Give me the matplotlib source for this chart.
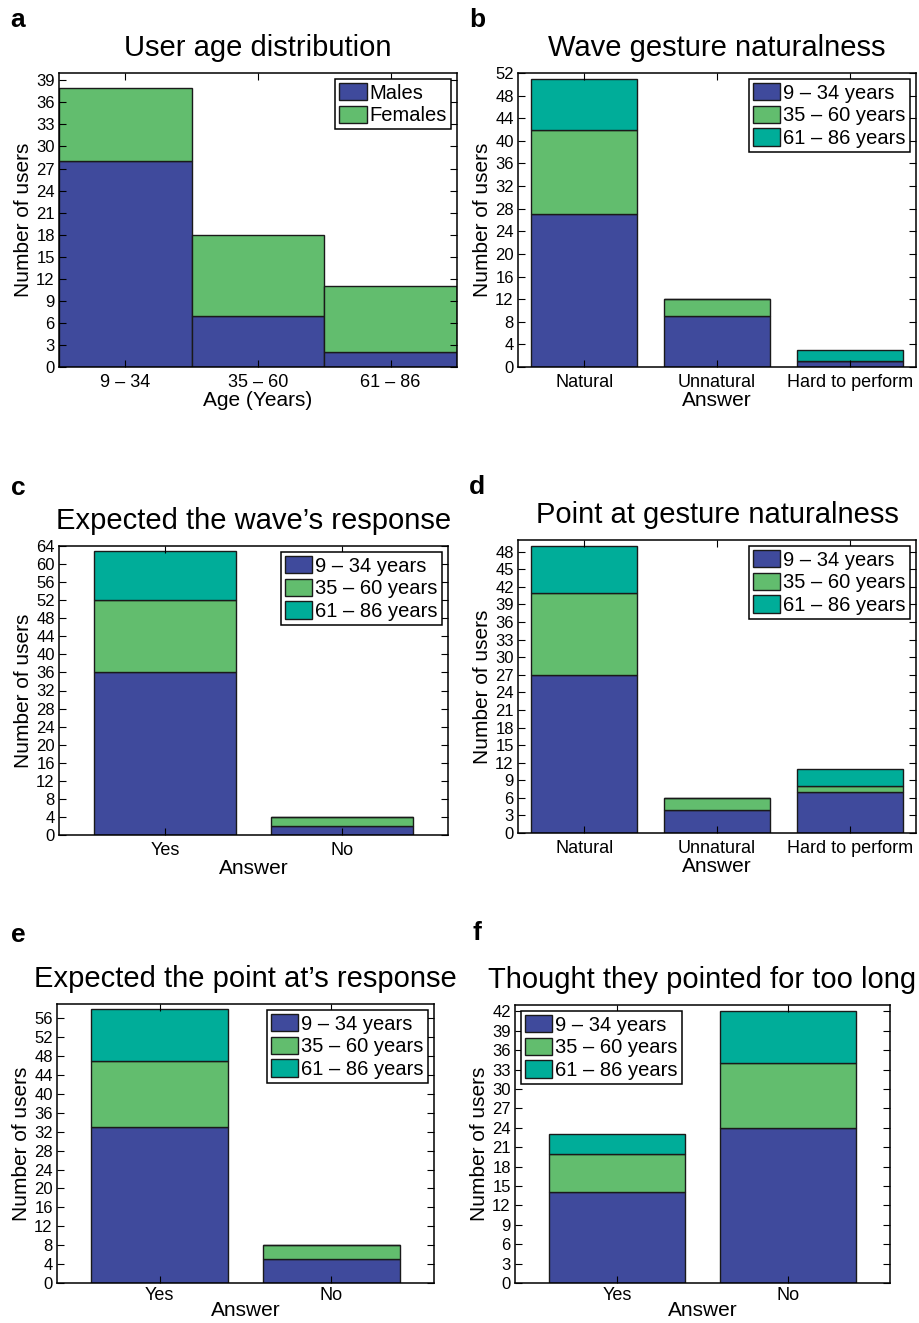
import numpy as np
import matplotlib
matplotlib.use("Agg")
import matplotlib.pyplot as plt

plt.rcParams['font.family'] = ['Liberation Sans', 'DejaVu Sans']

# colours
c_blue = '#3f4a9c'
c_green = '#62bd6e'
c_teal = '#00ad99'

# panel a
ages = ['9 – 34', '35 – 60', '61 – 86']
males = [28, 7, 2]
females = [10, 11, 9]

# age groups for other panels
groups = ['9 – 34 years', '35 – 60 years', '61 – 86 years']

# panel b
b_cats = ['Natural', 'Unnatural', 'Hard to perform']
b_young = [27, 9, 1]
b_mid = [15, 3, 0]
b_old = [9, 0, 2]

# panel c
c_cats = ['Yes', 'No']
c_young = [36, 2]
c_mid = [16, 2]
c_old = [11, 0]

# panel d
d_cats = ['Natural', 'Unnatural', 'Hard to perform']
d_young = [27, 4, 7]
d_mid = [14, 2, 1]
d_old = [8, 0, 3]

# panel e
e_cats = ['Yes', 'No']
e_young = [33, 5]
e_mid = [14, 3]
e_old = [11, 0]

# panel f
f_cats = ['Yes', 'No']
f_young = [14, 24]
f_mid = [6, 10]
f_old = [3, 8]

W, H = 920, 1323
fig = plt.figure(figsize=(W / 100, H / 100), dpi=100)


def make_ax(L, T, R, B):
    return fig.add_axes([L / W, 1 - B / H, (R - L) / W, (B - T) / H])


def style(ax, title, xlabel, ymax, ystep, xlim, xpad=5, lpad=0):
    ax.set_title(title, fontsize=21, pad=12)
    ax.set_ylim(0, ymax)
    ax.set_xlim(*xlim)
    ax.set_yticks(np.arange(0, ymax + 0.01, ystep))
    ax.tick_params(direction='in', top=True, right=True, length=5,
                   width=0.8, labelsize=12, pad=3)
    ax.tick_params(axis='x', labelsize=13, pad=xpad)
    ax.set_ylabel('Number of users', fontsize=15, labelpad=2)
    ax.set_xlabel(xlabel, fontsize=15, labelpad=lpad)
    for s in ax.spines.values():
        s.set_linewidth(1.1)
        s.set_color('black')


def leg(ax, loc):
    l = ax.legend(loc=loc, fontsize=14.5, fancybox=False, edgecolor='black',
                  framealpha=1, handlelength=1.35, handleheight=0.95,
                  handletextpad=0.15, labelspacing=0.15, borderpad=0.2,
                  borderaxespad=0.3)
    l.get_frame().set_linewidth(1.1)


def stacked(ax, cats, s1, s2, s3, width=0.8):
    x = np.arange(1, len(cats) + 1)
    s1 = np.array(s1)
    s2 = np.array(s2)
    s3 = np.array(s3)
    kw = dict(width=width, edgecolor='#1a1a1a', linewidth=1.0)
    ax.bar(x, s1, color=c_blue, label=groups[0], **kw)
    ax.bar(x, s2, bottom=s1, color=c_green, label=groups[1], **kw)
    ax.bar(x, s3, bottom=s1 + s2, color=c_teal, label=groups[2], **kw)
    ax.set_xticks(x)
    ax.set_xticklabels(cats)


# a
ax = make_ax(59, 73, 457, 367)
x = np.arange(1, 4)
ax.bar(x, males, width=1.0, color=c_blue, edgecolor='#1a1a1a', linewidth=1.0, label='Males')
ax.bar(x, females, width=1.0, bottom=males, color=c_green, edgecolor='#1a1a1a', linewidth=1.0, label='Females')
ax.set_xticks(x)
ax.set_xticklabels(ages)
style(ax, 'User age distribution', 'Age (Years)', 40, 3, (0.5, 3.5))
leg(ax, 'upper right')

# b
ax = make_ax(518, 73, 916, 367)
stacked(ax, b_cats, b_young, b_mid, b_old)
style(ax, 'Wave gesture naturalness', 'Answer', 52, 4, (0.5, 3.5))
leg(ax, 'upper right')

# c
ax = make_ax(59, 546, 448, 835)
stacked(ax, c_cats, c_young, c_mid, c_old)
style(ax, 'Expected the wave’s response', 'Answer', 64, 4, (0.4, 2.6))
leg(ax, 'upper right')

# d
ax = make_ax(518, 540, 916, 833)
stacked(ax, d_cats, d_young, d_mid, d_old)
style(ax, 'Point at gesture naturalness', 'Answer', 50, 3, (0.5, 3.5))
leg(ax, 'upper right')

# e
ax = make_ax(57, 1004, 434, 1283)
stacked(ax, e_cats, e_young, e_mid, e_old)
style(ax, 'Expected the point at’s response', 'Answer', 59, 4, (0.4, 2.6),
      xpad=3, lpad=-2)
leg(ax, 'upper right')

# f
ax = make_ax(515, 1005, 890, 1283)
stacked(ax, f_cats, f_young, f_mid, f_old)
style(ax, 'Thought they pointed for too long', 'Answer', 43, 3, (0.4, 2.6),
      xpad=3, lpad=-2)
leg(ax, 'upper left')

# panel letters
for lab, px, py in [('a', 18, 20), ('b', 477, 20), ('c', 18, 488),
                    ('d', 477, 487), ('e', 18, 935), ('f', 477, 933)]:
    fig.text(px / W, 1 - py / H, lab, fontsize=19, fontweight='bold',
             ha='center', va='center')

fig.savefig('out.png', dpi=100)
